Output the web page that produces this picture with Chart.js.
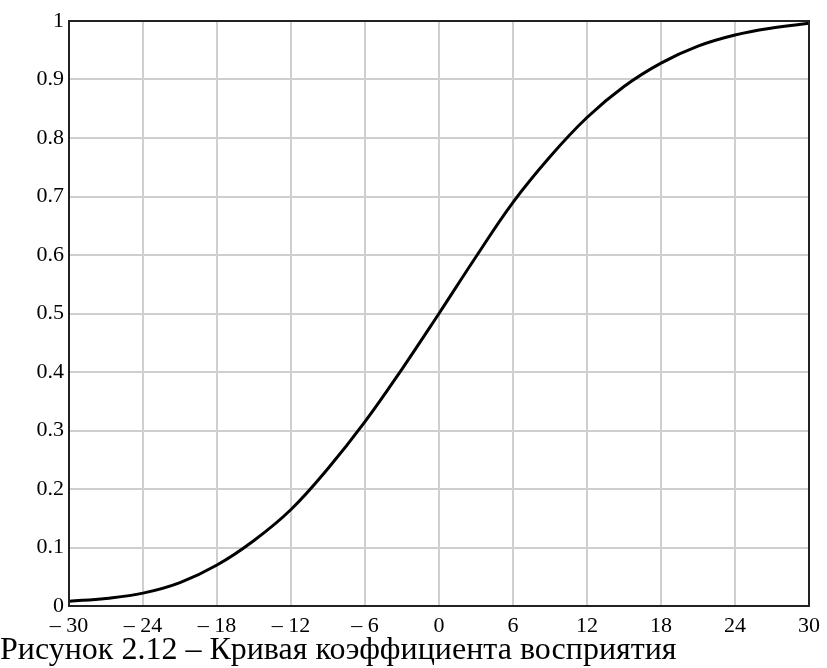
<!DOCTYPE html>
<html>
<head>
<meta charset="utf-8">
<script src="https://cdn.jsdelivr.net/npm/chart.js@4"></script>
<style>
  body { margin: 0; background: #fff; width: 827px; height: 668px; overflow: hidden; position: relative; }
  #wrap { position: absolute; left: 0; top: 0; width: 827px; height: 640px; }
  #caption { position: absolute; left: 0; top: 632px; font-family: "Liberation Serif", "Times New Roman", serif; font-size: 32px; line-height: 32px; color: #000; white-space: nowrap; }
</style>
</head>
<body>
<div id="wrap"><canvas id="chart"></canvas></div>
<div id="caption">Рисунок 2.12 – Кривая коэффициента восприятия</div>
<script>
// values
const xValues = [-30, -27, -24, -21, -18, -15, -12, -9, -6, -3, 0, 3, 6, 9, 12, 15, 18, 21, 24, 27, 30];
const yValues = [0.008, 0.013, 0.022, 0.04, 0.07, 0.112, 0.165, 0.235, 0.315, 0.405, 0.5, 0.597, 0.69, 0.768, 0.835, 0.888, 0.928, 0.957, 0.976, 0.988, 0.996];
const xTicks = [-30, -24, -18, -12, -6, 0, 6, 12, 18, 24, 30];
const yTicks = [0, 0.1, 0.2, 0.3, 0.4, 0.5, 0.6, 0.7, 0.8, 0.9, 1];

const points = xValues.map((x, i) => ({ x: x, y: yValues[i] }));

const tickFont = { family: '"Liberation Serif", "Times New Roman", serif', size: 22 };

// frame round the plot area
const framePlugin = {
  id: 'frame',
  afterDraw(chart) {
    const a = chart.chartArea;
    const c = chart.ctx;
    c.save();
    c.strokeStyle = '#222';
    c.lineWidth = 2;
    c.strokeRect(a.left, a.top, a.right - a.left, a.bottom - a.top);
    c.restore();
  }
};

function fmtX(v) {
  return v < 0 ? '– ' + Math.abs(v) : String(v);
}

const ctx = document.getElementById('chart');
new Chart(ctx, {
  type: 'line',
  data: {
    datasets: [{
      data: points,
      borderColor: '#000',
      borderWidth: 3,
      pointRadius: 0,
      fill: false,
      tension: 0.4
    }]
  },
  options: {
    responsive: true,
    maintainAspectRatio: false,
    animation: false,
    layout: { padding: { top: 21, right: 18, left: 0, bottom: 0 } },
    plugins: { legend: { display: false }, tooltip: { enabled: false } },
    scales: {
      x: {
        type: 'linear',
        min: -30,
        max: 30,
        afterBuildTicks(axis) { axis.ticks = xTicks.map(v => ({ value: v })); },
        afterFit(axis) { axis.height = 34; },
        grid: { color: '#cfcfcf', lineWidth: 2, drawTicks: false },
        border: { display: false },
        ticks: { color: '#000', font: tickFont, padding: 7, maxRotation: 0, autoSkip: false, callback: v => fmtX(v) }
      },
      y: {
        type: 'linear',
        min: 0,
        max: 1,
        afterBuildTicks(axis) { axis.ticks = yTicks.map(v => ({ value: v })); },
        afterFit(axis) { axis.width = 69; },
        grid: { color: '#cfcfcf', lineWidth: 2, drawTicks: false },
        border: { display: false },
        ticks: { color: '#000', font: tickFont, padding: 5, autoSkip: false, callback: v => String(Math.round(v * 10) / 10) }
      }
    }
  },
  plugins: [framePlugin]
});
</script>
</body>
</html>
